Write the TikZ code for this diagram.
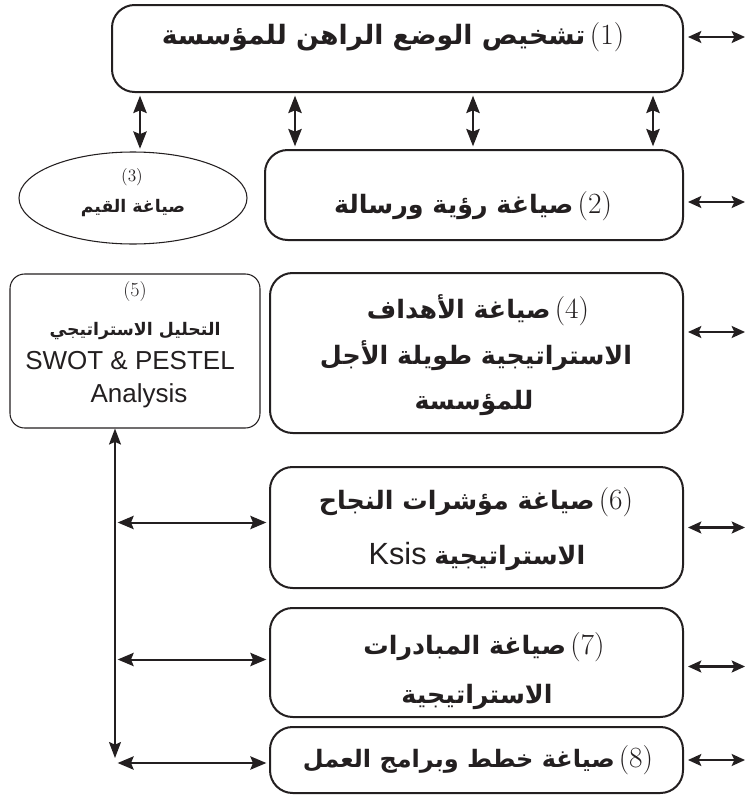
\documentclass[tikz,border=0pt]{standalone}
\usepackage{fontspec}
\usetikzlibrary{arrows.meta,shapes.geometric,calc}
\TeXXeTstate=1
\newfontfamily\arabicfont[Script=Arabic]{DejaVu Sans}
\newfontfamily\latinsans{Liberation Sans}
\newcommand\artxt[1]{{\arabicfont\bfseries\beginR #1\endR}}
\newcommand\numtxt[1]{{\rmfamily\fontsize{22}{24}\selectfont #1}}
\newcommand\numsm[1]{{\rmfamily #1}}
\definecolor{ink}{HTML}{231F20}

\begin{document}
\begin{tikzpicture}[x=0.75pt,y=-0.75pt,
  box/.style={draw=ink, line width=1.5pt, rounded corners=17pt, inner sep=0pt},
  thinbox/.style={draw=ink, line width=0.8pt, rounded corners=11pt, inner sep=0pt},
  oval/.style={draw=ink, line width=0.8pt, ellipse, inner sep=0pt},
  lbl/.style={text=ink, inner sep=0pt, anchor=center},
  big/.style={font=\fontsize{19}{22}\selectfont},
  bigger/.style={font=\fontsize{20}{23}\selectfont},
  vdbl/.style={draw=ink, line width=1.8pt,
    {Stealth[length=13pt,width=10pt,inset=2pt]}-{Stealth[length=13pt,width=10pt,inset=2pt]},
    shorten <=2pt, shorten >=2pt},
  hdbl/.style={draw=ink, line width=1.5pt,
    {Stealth[length=12pt,width=10pt,inset=2pt]}-{Stealth[length=12pt,width=10pt,inset=2pt]},
    shorten <=2pt, shorten >=2pt},
  rarr/.style={draw=ink, line width=1.6pt,
    {Stealth[length=10pt,width=9pt,inset=2pt]}-{Stealth[length=10pt,width=9pt,inset=2pt]},
    shorten <=3pt},
  spine/.style={draw=ink, line width=1.3pt,
    {Stealth[length=12pt,width=9pt,inset=2pt]}-{Stealth[length=12pt,width=9pt,inset=2pt]},
    shorten <=3pt}
]
\useasboundingbox (0,0) rectangle (748,796);

% main boxes
\node[box, minimum width=428.25pt, minimum height=65.25pt] (b1) at (397.5,48.5) {};
\node[box, minimum width=313.5pt, minimum height=67.5pt] (b2) at (474,195) {};
\node[oval, minimum width=171pt, minimum height=69pt] (e3) at (133,198) {};
\node[thinbox, minimum width=187.5pt, minimum height=115.5pt] (b5) at (135,351) {};
\node[box, minimum width=309.75pt, minimum height=120pt] (b4) at (476.5,353) {};
\node[box, minimum width=309.75pt, minimum height=90.75pt] (b6) at (476.5,527.5) {};
\node[box, minimum width=309.75pt, minimum height=81.75pt] (b7) at (476.5,662.5) {};
\node[box, minimum width=309.75pt, minimum height=49.5pt] (b8) at (476.5,760) {};

% labels
\node[lbl, bigger] (t1) at (393,37) {\artxt{تشخيص الوضع الراهن للمؤسسة}\,\numtxt{(1)}};
\node[lbl, big] (t2) at (473,206) {\artxt{صياغة رؤية ورسالة}\,\numtxt{(2)}};
\node[lbl, font=\fontsize{13}{15}\selectfont] (t3a) at (132,177) {\numsm{(3)}};
\node[lbl, font=\fontsize{13}{15}\selectfont] (t3b) at (133,208) {\artxt{صياغة القيم}};
\node[lbl, font=\fontsize{15}{17}\selectfont] (t5a) at (135,292) {\numsm{(5)}};
\node[lbl, font=\fontsize{13}{15}\selectfont] (t5b) at (135,331) {\artxt{التحليل الاستراتيجي}};
\node[lbl, font=\fontsize{19.5}{22}\latinsans\selectfont] (t5c) at (130,361) {SWOT \& PESTEL};
\node[lbl, font=\fontsize{19.5}{22}\latinsans\selectfont] (t5d) at (139,396) {Analysis};
\node[lbl, big] (t4a) at (478,310) {\artxt{صياغة الأهداف}\,\numtxt{(4)}};
\node[lbl, big] (t4b) at (476,356) {\artxt{الاستراتيجية طويلة الأجل}};
\node[lbl, big] (t4c) at (474,403) {\artxt{للمؤسسة}};
\node[lbl, big] (t6a) at (476,502) {\artxt{صياغة مؤشرات النجاح}\,\numtxt{(6)}};
\node[lbl, big] (t6b) at (477,556) {{\latinsans\fontsize{23}{26}\selectfont Ksis}\ \artxt{الاستراتيجية}};
\node[lbl, big] (t7a) at (484,647) {\artxt{صياغة المبادرات}\,\numtxt{(7)}};
\node[lbl, big] (t7b) at (477,697) {\artxt{الاستراتيجية}};
\node[lbl, font=\fontsize{18}{21}\selectfont] (t8) at (478,760) {\artxt{صياغة خطط وبرامج العمل}\,\numtxt{(8)}};

% links between box 1 and the row below it
\coordinate (va) at (140,0);
\coordinate (vb) at (295,0);
\coordinate (vc) at (473,0);
\coordinate (vd) at (653,0);
\draw[vdbl] (b1.south -| va) -- (e3.north -| va);
\draw[vdbl] (b1.south -| vb) -- (b2.north -| vb);
\draw[vdbl] (b1.south -| vc) -- (b2.north -| vc);
\draw[vdbl] (b1.south -| vd) -- (b2.north -| vd);

% outgoing arrows on the right edge
\coordinate (rim) at (745,0);
\draw[rarr] (b1.east |- t1) -- (rim |- t1);
\draw[rarr] ($(b2.east)+(0,7)$) -- ($(rim |- b2.east)+(0,7)$);
\draw[rarr] ($(b4.east)+(0,-21)$) -- ($(rim |- b4.east)+(0,-21)$);
\draw[rarr] (b6.east) -- (rim |- b6.east);
\draw[rarr] ($(b7.east)+(0,4)$) -- ($(rim |- b7.east)+(0,4)$);
\draw[rarr] (b8.east) -- (rim |- b8.east);

% spine from the analysis box down to the plans
\coordinate (sp) at (115,762);
\draw[spine] (sp) -- (b5.south -| sp);
\draw[hdbl] ($(sp |- b6.west)+(0,-5)$) -- ($(b6.west)+(0,-5)$);
\draw[hdbl] ($(sp |- b7.west)+(0,-3)$) -- ($(b7.west)+(0,-3)$);
\draw[hdbl] ($(sp |- b8.west)+(0,3)$) -- ($(b8.west)+(0,3)$);
\end{tikzpicture}
\end{document}
